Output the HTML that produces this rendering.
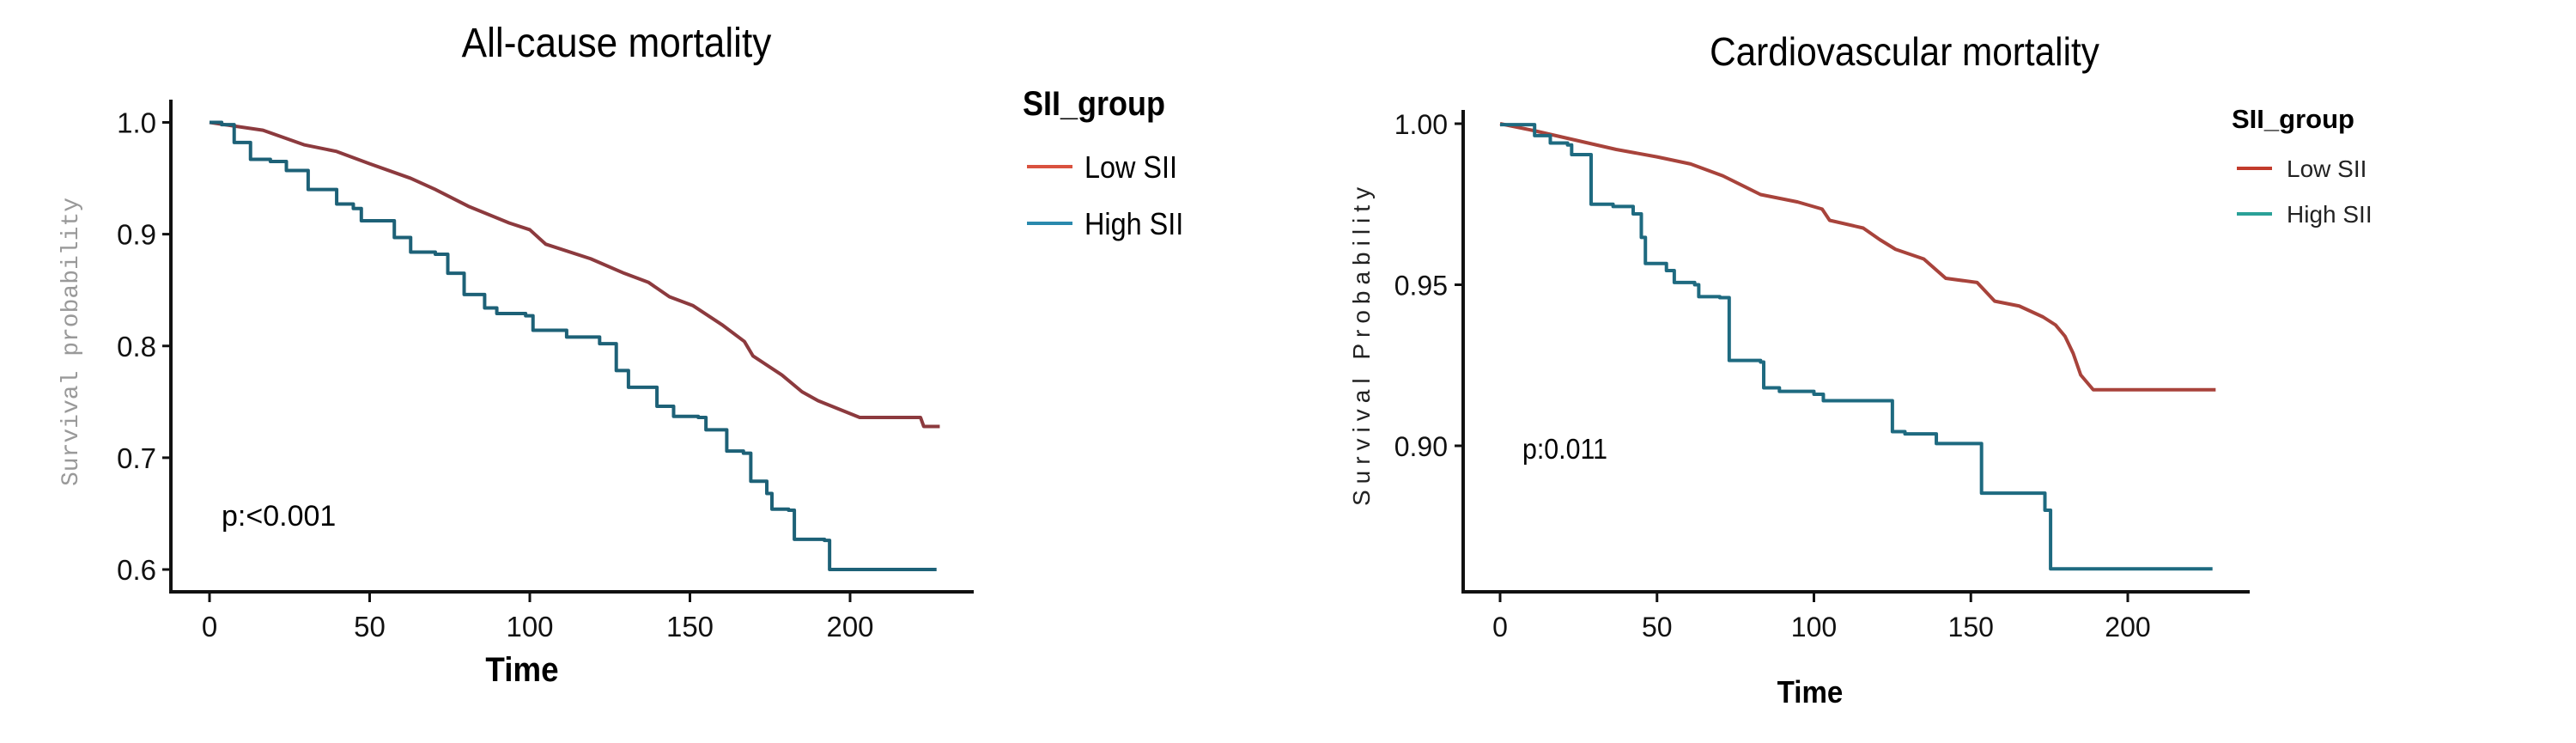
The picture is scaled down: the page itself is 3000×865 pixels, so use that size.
<!DOCTYPE html>
<html><head><meta charset="utf-8">
<style>
html,body{margin:0;padding:0;background:#fff;}
svg{display:block;}
text{font-family:"Liberation Sans",sans-serif;}
</style></head>
<body>
<svg id="chart" width="3000" height="865" viewBox="0 0 3000 865" xmlns="http://www.w3.org/2000/svg">
<rect x="0" y="0" width="3000" height="865" fill="#fff"/>
<g>
<text x="718" y="66" font-size="48" text-anchor="middle" fill="#000" transform="scale(0.92,1)" style="transform-origin:718px 0">All-cause mortality</text>
<line x1="199" y1="116" x2="199" y2="690" stroke="#111" stroke-width="4"/>
<line x1="197" y1="689" x2="1134" y2="689" stroke="#111" stroke-width="4"/>
<g id="ticksL"></g>
<text transform="translate(90,398) rotate(-90)" font-size="28" fill="#999" text-anchor="middle" style="font-family:'Liberation Mono',monospace">Survival probability</text>
<text x="608" y="793" font-size="40" font-weight="bold" text-anchor="middle" transform="scale(0.92,1)" style="transform-origin:608px 0">Time</text>
<text x="258" y="612" font-size="34" fill="#000">p:&lt;0.001</text>
<g id="seriesL"></g>
<text x="1191" y="134" font-size="40" font-weight="bold" transform="scale(0.9,1)" style="transform-origin:1191px 0">SII_group</text>
<line x1="1196" y1="194" x2="1249" y2="194" stroke="#d9523f" stroke-width="4"/>
<text x="1263" y="207" font-size="36" transform="scale(0.9,1)" style="transform-origin:1263px 0">Low SII</text>
<line x1="1196" y1="260" x2="1249" y2="260" stroke="#2a89ad" stroke-width="4"/>
<text x="1263" y="273" font-size="36" transform="scale(0.9,1)" style="transform-origin:1263px 0">High SII</text>
</g>
<g>
<text x="2218" y="76" font-size="46" text-anchor="middle" transform="scale(0.92,1)" style="transform-origin:2218px 0">Cardiovascular mortality</text>
<line x1="1704" y1="128" x2="1704" y2="690" stroke="#111" stroke-width="4"/>
<line x1="1702" y1="689" x2="2620" y2="689" stroke="#111" stroke-width="4"/>
<g id="ticksR"></g>
<text transform="translate(1595,400) rotate(-90)" font-size="28" fill="#222" text-anchor="middle" letter-spacing="7">Survival  Probability</text>
<text x="2108" y="818" font-size="36" font-weight="bold" text-anchor="middle" transform="scale(0.92,1)" style="transform-origin:2108px 0">Time</text>
<text x="1773" y="534" font-size="33" transform="scale(0.92,1)" style="transform-origin:1773px 0">p:0.011</text>
<g id="seriesR"></g>
<text x="2599" y="149" font-size="31" font-weight="bold">SII_group</text>
<line x1="2605" y1="196" x2="2646" y2="196" stroke="#c23b2c" stroke-width="4"/>
<text x="2663" y="206" font-size="28" fill="#222">Low SII</text>
<line x1="2605" y1="249" x2="2646" y2="249" stroke="#2aa198" stroke-width="4"/>
<text x="2663" y="259" font-size="28" fill="#222">High SII</text>
</g>
</svg>
<script>
const xTicks = [0, 50, 100, 150, 200];
const yTicksL = [1.0, 0.9, 0.8, 0.7, 0.6];
const yTickLabelsL = ["1.0", "0.9", "0.8", "0.7", "0.6"];
const yTicksR = [1.00, 0.95, 0.90];
const yTickLabelsR = ["1.00", "0.95", "0.90"];

const lowTimeL = [0,16.7,29.5,39.7,50,62.8,70.5,80.8,93.6,100,105,119,129.5,137,143.6,151,160,167,169.7,178.7,185,190,203,222,223,228];
const lowSurvL = [1.0,.993,.980,.974,.963,.950,.940,.925,.910,.904,.891,.878,.865,.857,.844,.836,.819,.804,.791,.774,.759,.751,.736,.736,.728,.728];
const highTimeL = [0,3.8,7.7,12.8,19,24,30.8,39.7,44.9,47.4,57.7,62.8,70.5,74.4,79.5,85.9,89.7,98.7,101,111.5,121.8,127,130.8,139.7,144.9,152.6,155,161.5,166.7,169,174,175.6,180.8,182.6,192,193.6,227];
const highSurvL = [1.0,.998,.982,.967,.965,.957,.940,.927,.923,.912,.897,.884,.882,.865,.846,.834,.829,.827,.814,.808,.802,.778,.763,.746,.737,.736,.725,.706,.704,.679,.668,.654,.653,.627,.626,.600,.600];

const lowTimeR = [0,11,24,37,50,60.7,71,83,94.8,102.6,105,115.7,121,126,135,142,152,157.6,165.4,173,177,180,182.6,185,189,228];
const lowSurvR = [1,.9978,.9949,.992,.9897,.9875,.9838,.978,.9757,.9735,.970,.9676,.964,.961,.958,.952,.9507,.9449,.9434,.940,.9375,.934,.9287,.922,.9174,.9174];
const highTimeR = [0,11,16,21.5,22.8,26.7,29,36,42.4,45,46.3,53,55.5,62,63.3,70,73,83,84,89,100,103,123.6,125,129,139,153,153.4,171,173.6,175.4,227];
const highSurvR = [.9997,.9963,.994,.9934,.9904,.9904,.975,.9743,.972,.9647,.9566,.9544,.9507,.950,.9463,.946,.9265,.926,.918,.9169,.916,.914,.914,.9044,.9037,.9007,.9007,.8853,.8853,.880,.8618,.8618];

const NS = "http://www.w3.org/2000/svg";
function mk(tag, attrs, parent){
  const e = document.createElementNS(NS, tag);
  for (const k in attrs) e.setAttribute(k, attrs[k]);
  parent.appendChild(e); return e;
}
const xL = t => 244 + t * (990 - 244) / 200;
const yL = s => 142.5 + (1.0 - s) * (663 - 142.5) / 0.4;
const xR = t => 1747 + t * (2478 - 1747) / 200;
const yR = s => 144 + (1.0 - s) * (519 - 144) / 0.1;

function ticks(gid, xf, yf, yT, yLab, yAxisX, labelRight, fs){
  const g = document.getElementById(gid);
  xTicks.forEach((v) => {
    const l = mk('line', {x1: xf(v), x2: xf(v), y1: 689, y2: 701, stroke: '#111', 'stroke-width': 3}, g);
    
    
    const t = mk('text', {x: xf(v), y: 741, 'font-size': fs, 'text-anchor': 'middle', fill: '#111'}, g);
    
    
    t.textContent = String(v);
  });
  yT.forEach((v, i) => {
    const l = mk('line', {x1: yAxisX - 10, x2: yAxisX, y1: yf(v), y2: yf(v), stroke: '#111', 'stroke-width': 3}, g);
    
    
    const t = mk('text', {x: labelRight, y: yf(v) + 12, 'font-size': fs, 'text-anchor': 'end', fill: '#111'}, g);
    
    
    t.textContent = yLab[i];
  });
}
function stepPath(times, surv, xf, yf){
  let d = 'M' + xf(times[0]) + ',' + yf(surv[0]);
  for (let i = 1; i < times.length; i++) d += ' H' + xf(times[i]) + ' V' + yf(surv[i]);
  return d;
}
function linePath(times, surv, xf, yf){
  return times.map((t, i) => (i ? 'L' : 'M') + xf(t) + ',' + yf(surv[i])).join(' ');
}
function series(gid, d, color, name){
  const g = document.getElementById(gid);
  const p = mk('path', {d: d, fill: 'none', stroke: color, 'stroke-width': 4, 'stroke-linejoin': 'round'}, g);
  
  
}
ticks('ticksL', xL, yL, yTicksL, yTickLabelsL, 199, 182, 33);
ticks('ticksR', xR, yR, yTicksR, yTickLabelsR, 1704, 1686, 32);
series('seriesL', linePath(lowTimeL, lowSurvL, xL, yL), '#8c3a3e', 'low-sii-curve-left');
series('seriesL', stepPath(highTimeL, highSurvL, xL, yL), '#1d6177', 'high-sii-curve-left');
series('seriesR', linePath(lowTimeR, lowSurvR, xR, yR), '#a8433b', 'low-sii-curve-right');
series('seriesR', stepPath(highTimeR, highSurvR, xR, yR), '#1e6a80', 'high-sii-curve-right');
</script>
</body></html>
